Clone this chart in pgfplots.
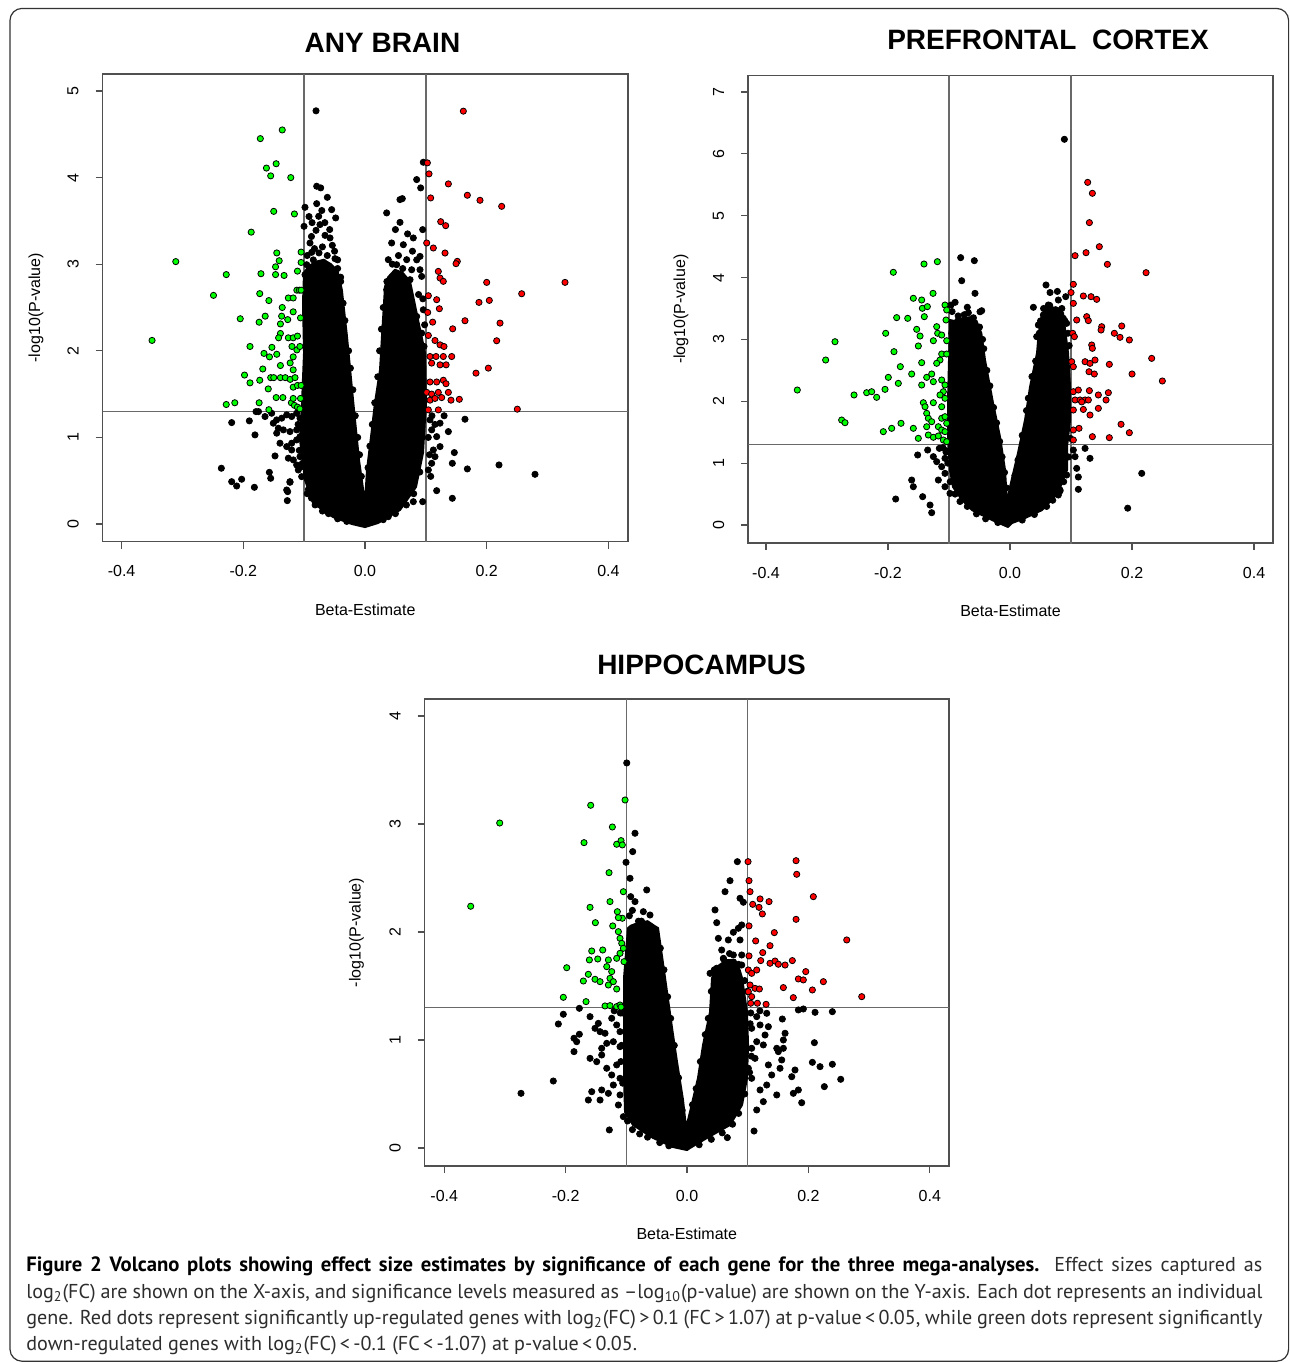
\documentclass[border=0pt]{standalone}
\usepackage{fontspec}
\setmainfont{Liberation Sans}
\newfontfamily\capfont{PT Sans}
\usepackage{pgfplots}
\pgfplotsset{compat=1.18}
\definecolor{rgreen}{RGB}{0,255,0}
\definecolor{rred}{RGB}{255,0,0}
\definecolor{boxc}{RGB}{80,80,80}
\definecolor{refc}{RGB}{105,105,105}
\definecolor{captxt}{RGB}{45,45,45}
\pgfplotsset{
 volcano/.style={
  scale only axis,
  axis line style={boxc,line width=0.75pt},
  tick align=outside,
  major tick length=3.5pt,
  tick style={boxc,line width=0.6pt},
  xtick pos=bottom, ytick pos=left,
  xtick={-0.4,-0.2,0,0.2,0.4},
  xticklabels={-0.4,-0.2,0.0,0.2,0.4},
  tick label style={font=\fontsize{8}{9.6}\selectfont},
  xticklabel style={anchor=center,yshift=-11.25pt},
  yticklabel style={xshift=-11.25pt,rotate=90,anchor=center},
  xlabel={Beta-Estimate},
  ylabel={-log10(P-value)},
  every axis x label/.style={anchor=center,font=\fontsize{8}{9.6}\selectfont},
  every axis y label/.style={anchor=center,rotate=90,font=\fontsize{8}{9.6}\selectfont},
  clip=true,
 },
 blk/.style={only marks,mark=*,mark size=1.55pt,mark options={fill=black,draw=none}},
 grn/.style={only marks,mark=*,mark size=1.55pt,mark options={fill=rgreen,draw=none}},
 rd/.style={only marks,mark=*,mark size=1.55pt,mark options={fill=rred,draw=none}},
 mass/.style={fill=black,draw=black,line width=1pt,line join=round},
 refl/.style={refc,line width=0.7pt},
}
\begin{document}
\begin{tikzpicture}
\useasboundingbox (0,0) rectangle (645pt,-681pt);
\fill[white] (0,0) rectangle (645pt,-681pt);
\draw[black!80,line width=0.6pt,rounded corners=6pt] (5pt,-4.2pt) rectangle (644.3pt,-680.6pt);

% ---------------- ANY BRAIN ----------------
\begin{axis}[volcano, at={(51.25pt,-270.75pt)}, anchor=south west,
  width=262.75pt, height=233.75pt,
  xmin=-0.4314, xmax=0.4322, ymin=-0.202, ymax=5.196,
  ytick={0,1,2,3,4,5}, yticklabels={0,1,2,3,4,5},
  xlabel style={at={(axis description cs:0.5,-0.1465)}},
  ylabel style={at={(axis description cs:-0.1266,0.5)}}]
\addplot[refl] coordinates {(-0.1,-1) (-0.1,10)};
\addplot[refl] coordinates {(0.1,-1) (0.1,10)};
\addplot[refl] coordinates {(-1,1.301) (1,1.301)};
\addplot[mass] coordinates {(-0.1002,2.902) (-0.1019,2.555) (-0.1002,1.977) (-0.1035,1.399) (-0.1068,0.971) (-0.0986,0.509) (-0.0855,0.243) (-0.0526,0.081) (-0.0214,0) (0,-0.035) (0.0214,0.012) (0.0575,0.162) (0.0838,0.428) (0.0953,0.821) (0.1002,1.399) (0.0986,1.977) (0.0871,2.358) (0.0800,2.60) (0.0740,2.800) (0.062,2.90) (0.0493,2.936) (0.038,2.85) (0.0329,2.740) (0.0279,2.162) (0.0247,1.780) (0.0164,1.399) (0.0099,1.006) (0.0033,0.624) (0,0.243) (-0.0099,0.740) (-0.0197,1.434) (-0.0296,2.162) (-0.0380,2.70) (-0.0450,2.92) (-0.0560,3.00) (-0.0680,3.05) (-0.0800,3.03) (-0.0920,2.98)} -- cycle;
\addplot[blk] coordinates {(-0.0805,4.771) (-0.0794,3.900) (-0.0728,3.881) (-0.0619,3.772) (-0.0794,3.699) (-0.0548,3.630) (-0.0482,3.534) (-0.0986,3.657) (-0.0761,3.553) (-0.0740,3.457) (-0.1002,3.437) (-0.0805,3.391) (-0.0657,3.333) (-0.0575,3.303) (-0.0537,3.218) (-0.0904,3.245) (-0.0876,3.137) (-0.0756,3.130) (-0.0493,3.064) (-0.0958,2.994) (-0.0986,2.879) (-0.0700,3.20) (-0.0620,3.10) (-0.0850,3.05) (-0.0450,2.95) (-0.0400,2.80)
(-0.095,3.10) (-0.088,3.32) (-0.068,3.02) (-0.060,2.98) (-0.083,3.18) (-0.050,3.15) (-0.045,3.05) (-0.058,3.40) (-0.092,3.55) (-0.071,3.62) (-0.066,3.48) (-0.087,3.48)
(-0.040,2.85) (-0.036,2.55) (-0.033,2.35) (-0.027,2.00) (-0.024,1.80) (-0.020,1.55) (-0.016,1.25) (-0.012,1.00) (-0.009,0.80) (-0.006,0.55)
(-0.095,0.35) (-0.082,0.22) (-0.070,0.15) (-0.060,0.12) (-0.045,0.06) (-0.030,0.03) (-0.1030,0.70) (-0.1080,0.85) (-0.1100,1.15)
(-0.2191,1.171) (-0.1901,1.191) (-0.1808,1.029) (-0.1791,1.298) (-0.1643,1.241) (-0.1507,1.164) (-0.1451,1.049) (-0.1397,0.933) (-0.1479,0.786) (-0.1260,0.760) (-0.1205,0.855) (-0.1123,0.682) (-0.2361,0.644) (-0.2191,0.489) (-0.2109,0.439) (-0.2027,0.517) (-0.1818,0.424) (-0.1572,0.597) (-0.1550,0.528) (-0.1271,0.374) (-0.1277,0.270) (-0.1233,0.482) (-0.1041,0.547) (-0.1534,1.279) (-0.1452,1.202) (-0.1369,1.222) (-0.1287,1.260) (-0.1205,1.241) (-0.1123,1.279) (-0.1068,1.222) (-0.1041,1.125) (-0.1123,1.087) (-0.1233,1.067) (-0.1342,1.087) (-0.1424,1.106) (-0.1123,0.971) (-0.1205,0.933) (-0.1287,0.894) (-0.1068,1.009) (-0.1068,0.778) (-0.1178,0.740) (-0.1096,0.624) (-0.1041,0.663) (-0.1287,0.393) (-0.1233,0.489) (-0.0674,0.170) (-0.1750,1.298) (-0.0930,0.400) (-0.0880,0.300)
(0.0958,4.177) (0.0849,3.977) (0.0915,3.881) (0.0613,3.757) (0.0575,3.746) (0.0356,3.592) (0.0575,3.483) (0.0948,3.399) (0.0794,3.303) (0.0630,3.225) (0.0438,3.245) (0.0904,3.090) (0.0904,2.936) (0.0383,3.052) (0.0520,2.994) (0.0685,3.052) (0.0767,2.936) (0.0931,2.859) (0.0740,2.821) (0.0438,2.840) (0.0356,2.705) (0.0740,2.512) (0.0849,2.397) (0.0958,2.474) (0.0931,2.204) (0.0876,1.934) (0.0931,1.858)
(0.045,3.00) (0.055,3.10) (0.062,2.95) (0.078,3.15) (0.085,3.05) (0.070,3.35) (0.050,3.40) (0.088,2.65) (0.095,2.60) (0.098,2.30) (0.097,2.05)
(0.036,2.80) (0.030,2.50) (0.027,2.25) (0.024,2.00) (0.021,1.70) (0.016,1.40) (0.012,1.15) (0.008,0.90) (0.005,0.65)
(0.090,0.60) (0.080,0.35) (0.068,0.22) (0.050,0.12) (0.030,0.05) (0.104,1.00) (0.106,0.80) (0.108,0.55)
(0.1643,1.210) (0.1370,1.067) (0.1233,1.164) (0.1178,1.009) (0.1123,0.855) (0.1233,0.894) (0.1068,1.202) (0.1096,1.087) (0.1150,0.778) (0.1041,0.624) (0.1096,0.701) (0.1468,0.825) (0.1435,0.701) (0.1682,0.636) (0.2202,0.682) (0.2794,0.574) (0.1178,0.385) (0.1435,0.297) (0.0948,0.258) (0.0794,0.258) (0.0383,0.085) (0.1100,1.25) (0.1300,1.25) (0.1150,1.15)};
\addplot[grn] coordinates {(-0.350,2.12) (-0.311,3.03) (-0.249,2.64) (-0.228,2.88) (-0.205,2.37) (-0.228,1.38) (-0.214,1.40) (-0.198,1.72) (-0.189,1.63) (-0.189,2.05) (-0.187,3.37) (-0.172,4.45) (-0.136,4.55) (-0.162,4.11) (-0.155,4.02) (-0.146,4.16) (-0.122,4.00) (-0.150,3.61) (-0.116,3.58) (-0.145,3.13) (-0.141,3.04) (-0.147,2.97) (-0.147,2.88) (-0.133,2.87) (-0.171,2.89) (-0.173,2.66) (-0.158,2.58) (-0.111,2.92) (-0.105,3.14) (-0.105,3.02) (-0.112,2.70) (-0.108,2.70) (-0.105,2.70) (-0.126,2.61) (-0.118,2.61) (-0.136,2.50) (-0.118,2.45) (-0.164,2.40) (-0.174,2.33) (-0.137,2.40) (-0.127,2.36) (-0.106,2.38) (-0.139,2.31) (-0.139,2.20) (-0.142,2.15) (-0.126,2.15) (-0.118,2.15) (-0.111,2.17) (-0.153,2.04) (-0.145,1.96) (-0.157,1.93) (-0.166,1.97) (-0.120,2.05) (-0.112,2.01) (-0.107,2.05) (-0.118,1.93) (-0.123,1.86) (-0.118,1.78) (-0.139,1.83) (-0.168,1.79) (-0.173,1.66) (-0.155,1.69) (-0.150,1.69) (-0.139,1.69) (-0.131,1.69) (-0.123,1.67) (-0.115,1.69) (-0.159,1.56) (-0.135,1.46) (-0.146,1.46) (-0.174,1.40) (-0.158,1.32) (-0.118,1.58) (-0.111,1.60) (-0.105,1.60) (-0.121,1.40) (-0.116,1.37) (-0.111,1.35) (-0.107,1.33) (-0.118,1.45) (-0.106,1.45)};
\addplot[rd] coordinates {(0.1616,4.767) (0.1025,4.170) (0.1052,4.043) (0.1370,3.927) (0.1079,3.765) (0.1682,3.796) (0.1890,3.738) (0.2246,3.668) (0.1244,3.491) (0.1326,3.445) (0.1014,3.245) (0.1123,3.187) (0.1315,3.129) (0.1517,3.033) (0.1496,3.006) (0.1205,2.917) (0.1233,2.840) (0.1287,2.802) (0.2000,2.790) (0.3287,2.790) (0.2575,2.659) (0.1873,2.559) (0.2043,2.582) (0.1041,2.636) (0.1178,2.590) (0.1222,2.486) (0.1030,2.443) (0.1112,2.331) (0.1441,2.254) (0.1643,2.347) (0.2219,2.320) (0.2164,2.116) (0.1041,2.177) (0.1150,2.119) (0.1233,2.069) (0.1298,2.050) (0.1068,1.934) (0.1167,1.934) (0.1287,1.934) (0.1425,1.934) (0.1095,1.858) (0.1233,1.838) (0.1333,1.838) (0.1824,1.742) (0.2027,1.800) (0.1068,1.64) (0.1178,1.64) (0.1287,1.66) (0.1331,1.62) (0.1014,1.52) (0.1095,1.50) (0.1205,1.52) (0.1370,1.52) (0.1068,1.43) (0.1150,1.45) (0.1260,1.46) (0.1550,1.44) (0.1413,1.43) (0.1041,1.318) (0.1205,1.318) (0.2503,1.326)};
\end{axis}

% ---------------- PREFRONTAL CORTEX ----------------
\begin{axis}[volcano, at={(374pt,-271.5pt)}, anchor=south west,
  width=262.5pt, height=233.75pt,
  xmin=-0.4295, xmax=0.4311, ymin=-0.291, ymax=7.266,
  ytick={0,1,2,3,4,5,6,7}, yticklabels={0,1,2,3,4,5,6,7},
  xlabel style={at={(axis description cs:0.5,-0.1453)}},
  ylabel style={at={(axis description cs:-0.1276,0.5)}}]
\addplot[refl] coordinates {(-0.1,-1) (-0.1,10)};
\addplot[refl] coordinates {(0.1,-1) (0.1,10)};
\addplot[refl] coordinates {(-1,1.301) (1,1.301)};
\addplot[mass] coordinates {(-0.0984,3.314) (-0.1000,2.667) (-0.1016,2.021) (-0.1016,1.374) (-0.0984,0.889) (-0.0934,0.614) (-0.0787,0.404) (-0.0623,0.242) (-0.0295,0.081) (-0.0033,-0.032) (0.0033,0.032) (0.0246,0.113) (0.0525,0.242) (0.0787,0.517) (0.0934,0.889) (0.0934,1.261) (0.0984,1.697) (0.0984,2.231) (0.0951,2.780) (0.0869,3.427) (0.0800,3.50) (0.0680,3.52) (0.0580,3.48) (0.0525,3.40) (0.0470,3.10) (0.0443,2.780) (0.0328,2.231) (0.0246,1.697) (0.0131,1.164) (0,0.614) (-0.0049,0.356) (-0.0082,0.889) (-0.0164,1.423) (-0.0279,1.972) (-0.0410,2.667) (-0.0470,3.10) (-0.0550,3.30) (-0.0650,3.36) (-0.0800,3.34) (-0.0920,3.30)} -- cycle;
\addplot[blk] coordinates {(-0.0809,4.322) (-0.0585,4.273) (-0.0792,3.949) (-0.0574,3.745) (-0.0967,3.556) (-0.0683,3.431) (-0.0492,3.447) (-0.0464,3.464) (-0.0847,3.314) (-0.0738,3.260) (-0.0574,3.206) (-0.0792,3.152) (-0.0656,3.099) (-0.0519,2.991) (-0.0956,3.099) (-0.0902,2.937) (-0.0710,2.882) (-0.0519,2.774) (-0.0956,2.720) (-0.0519,2.533) (-0.0410,2.397)
(-0.095,3.45) (-0.085,3.38) (-0.075,3.40) (-0.060,3.35) (-0.050,3.20) (-0.045,3.00) (-0.043,2.85) (-0.090,3.60) (-0.070,3.52)
(-0.038,2.50) (-0.033,2.25) (-0.027,1.90) (-0.022,1.65) (-0.017,1.35) (-0.013,1.10) (-0.009,0.85) (-0.006,0.60)
(-0.098,0.70) (-0.090,0.50) (-0.082,0.38) (-0.070,0.30) (-0.055,0.18) (-0.040,0.10) (-0.020,0.04) (-0.102,1.00) (-0.104,1.20)
(-0.1350,1.212) (-0.1159,1.239) (-0.1514,1.132) (-0.1257,1.105) (-0.1202,1.024) (-0.1066,1.078) (-0.1120,0.943) (-0.1066,0.835) (-0.1175,0.727) (-0.1066,0.619) (-0.0984,0.511) (-0.1612,0.727) (-0.1585,0.619) (-0.1432,0.458) (-0.1874,0.420) (-0.1311,0.323) (-0.1284,0.199) (-0.1100,1.25) (-0.1050,1.18)
(0.0891,6.235) (0.0590,3.880) (0.0656,3.758) (0.0776,3.776) (0.0913,3.691) (0.0383,3.519) (0.0792,3.637) (0.0628,3.556) (0.0546,3.395) (0.0738,3.395) (0.0874,3.341) (0.0929,3.260) (0.0464,3.233) (0.0437,3.045) (0.0574,3.099) (0.0929,2.882)
(0.055,3.50) (0.065,3.55) (0.075,3.48) (0.085,3.50) (0.090,3.30) (0.095,3.10) (0.050,3.30) (0.048,3.10) (0.097,2.90)
(0.042,2.65) (0.036,2.40) (0.030,2.05) (0.027,1.85) (0.020,1.45) (0.013,1.05) (0.008,0.80) (0.004,0.50)
(0.088,0.70) (0.082,0.55) (0.070,0.40) (0.060,0.30) (0.040,0.17) (0.020,0.08) (0.099,1.40) (0.096,1.10)
(0.1230,1.239) (0.1311,1.078) (0.1066,1.105) (0.1093,0.916) (0.1120,0.776) (0.1038,1.212) (0.1120,0.577) (0.2159,0.835) (0.1929,0.272) (0.0929,0.808) (0.0820,0.566) (0.0792,0.485) (0.0530,0.323)};
\addplot[grn] coordinates {(-0.3487,2.182) (-0.3022,2.667) (-0.2869,2.963) (-0.2760,1.697) (-0.2705,1.654) (-0.2557,2.102) (-0.2350,2.139) (-0.2268,2.155) (-0.2186,2.064) (-0.2049,2.193) (-0.2077,1.509) (-0.1940,1.563) (-0.1787,1.644) (-0.1913,4.085) (-0.1410,4.219) (-0.1191,4.257) (-0.1262,3.745) (-0.1585,3.665) (-0.1448,3.637) (-0.1437,3.503) (-0.1355,3.530) (-0.1066,3.556) (-0.1038,3.476) (-0.1049,3.314) (-0.1858,3.352) (-0.1677,3.341) (-0.1405,3.368) (-0.2038,3.099) (-0.1530,3.163) (-0.1475,3.055) (-0.1202,3.206) (-0.1186,3.099) (-0.1120,3.071) (-0.1257,2.979) (-0.1038,2.979) (-0.1503,2.894) (-0.1902,2.802) (-0.1120,2.764) (-0.1038,2.764) (-0.1148,2.667) (-0.1202,2.614) (-0.1448,2.624) (-0.1798,2.560) (-0.1612,2.441) (-0.1366,2.387) (-0.1284,2.441) (-0.1995,2.387) (-0.1831,2.290) (-0.1448,2.263) (-0.1257,2.317) (-0.1120,2.344) (-0.1066,2.263) (-0.1093,2.155) (-0.1148,2.102) (-0.1066,2.048) (-0.1421,1.977) (-0.1257,1.977) (-0.1393,1.912) (-0.1120,1.912) (-0.1366,1.805) (-0.1339,1.725) (-0.1284,1.670) (-0.1120,1.725) (-0.1066,1.751) (-0.1038,1.644) (-0.1585,1.563) (-0.1366,1.589) (-0.1175,1.589) (-0.1120,1.536) (-0.1066,1.509) (-0.1503,1.401) (-0.1339,1.455) (-0.1257,1.418) (-0.1175,1.439) (-0.1093,1.374) (-0.1038,1.347)};
\addplot[rd] coordinates {(0.1273,5.539) (0.1350,5.362) (0.1301,4.888) (0.1464,4.499) (0.1066,4.354) (0.1246,4.402) (0.1596,4.214) (0.2230,4.079) (0.1038,3.891) (0.1000,3.758) (0.1038,3.583) (0.1202,3.702) (0.1328,3.691) (0.1421,3.648) (0.1093,3.314) (0.1257,3.368) (0.1284,3.304) (0.1503,3.206) (0.1492,3.152) (0.1831,3.217) (0.1710,3.099) (0.1803,3.034) (0.1956,2.991) (0.1027,3.099) (0.1055,3.045) (0.1339,2.910) (0.1350,2.856) (0.2322,2.694) (0.1011,2.640) (0.1038,2.559) (0.1230,2.640) (0.1311,2.613) (0.1393,2.667) (0.1628,2.597) (0.1295,2.478) (0.1382,2.441) (0.2000,2.441) (0.2497,2.328) (0.1038,2.155) (0.1120,2.182) (0.1301,2.172) (0.1448,2.102) (0.1612,2.139) (0.1066,2.021) (0.1148,2.021) (0.1230,2.021) (0.1284,2.021) (0.1175,1.990) (0.1574,2.021) (0.1038,1.859) (0.1202,1.868) (0.1311,1.778) (0.1448,1.886) (0.1820,1.628) (0.1956,1.492) (0.1038,1.536) (0.1131,1.563) (0.1350,1.428) (0.1628,1.412) (0.1038,1.374)};
\end{axis}

% ---------------- HIPPOCAMPUS ----------------
\begin{axis}[volcano, at={(212.25pt,-583pt)}, anchor=south west,
  width=262.25pt, height=233.5pt,
  xmin=-0.4325, xmax=0.4316, ymin=-0.167, ymax=4.157,
  ytick={0,1,2,3,4}, yticklabels={0,1,2,3,4},
  xlabel style={at={(axis description cs:0.5,-0.1456)}},
  ylabel style={at={(axis description cs:-0.1296,0.5)}}]
\addplot[refl] coordinates {(-0.1,-1) (-0.1,10)};
\addplot[refl] coordinates {(0.1,-1) (0.1,10)};
\addplot[refl] coordinates {(-1,1.301) (1,1.301)};
\addplot[mass] coordinates {(-0.0972,2.037) (-0.1038,1.574) (-0.1038,1.111) (-0.1038,0.648) (-0.1021,0.333) (-0.0890,0.213) (-0.0560,0.093) (-0.0231,0.009) (0,-0.019) (0.0049,0) (0.0329,0.093) (0.0708,0.213) (0.0906,0.398) (0.0988,0.648) (0.1005,0.954) (0.0988,1.259) (0.0906,1.574) (0.0850,1.68) (0.0791,1.741) (0.0650,1.74) (0.0500,1.68) (0.0412,1.574) (0.0379,1.259) (0.0264,0.954) (0.0181,0.648) (0.0049,0.333) (-0.0016,0.185) (-0.0066,0.444) (-0.0165,0.796) (-0.0247,1.111) (-0.0362,1.574) (-0.0478,2.037) (-0.0520,2.05) (-0.0650,2.10) (-0.0800,2.08) (-0.0920,2.06)} -- cycle;
\addplot[blk] coordinates {(-0.0993,3.565) (-0.0857,2.914) (-0.0895,2.744) (-0.1005,2.645) (-0.0939,2.497) (-0.0928,2.327) (-0.0664,2.389) (-0.0610,2.157) (-0.0555,2.003) (-0.0720,2.188) (-0.0857,2.281) (-0.0800,2.10)
(-0.095,2.15) (-0.085,2.05) (-0.075,2.10) (-0.065,2.05) (-0.058,1.95) (-0.050,1.90) (-0.090,2.20)
(-0.044,1.85) (-0.038,1.65) (-0.032,1.40) (-0.027,1.20) (-0.021,0.95) (-0.014,0.65) (-0.008,0.35)
(-0.098,0.25) (-0.090,0.17) (-0.078,0.13) (-0.065,0.10) (-0.045,0.05) (-0.030,0.02) (-0.106,0.60) (-0.108,0.95) (-0.107,1.25) (-0.109,0.80)
(-0.1774,1.293) (-0.2038,1.238) (-0.2120,1.148) (-0.1862,1.016) (-0.1774,1.053) (-0.1818,0.984) (-0.1862,0.892) (-0.1598,1.216) (-0.1461,1.154) (-0.1433,1.077) (-0.1351,1.062) (-0.1516,1.108) (-0.1241,1.201) (-0.1159,1.139) (-0.1104,1.077) (-0.1323,0.969) (-0.1406,0.923) (-0.1214,0.984) (-0.1104,0.938) (-0.1598,0.830) (-0.1488,0.799) (-0.1406,0.861) (-0.1323,0.738) (-0.1241,0.676) (-0.1159,0.769) (-0.1104,0.645) (-0.1214,0.583) (-0.1296,0.506) (-0.1104,0.491) (-0.1131,0.398) (-0.1049,0.290) (-0.1280,0.167) (-0.1570,0.521) (-0.1626,0.444) (-0.1433,0.444) (-0.1406,0.537) (-0.2203,0.620) (-0.2735,0.506) (-0.1100,1.25) (-0.1200,1.27)
(0.0829,2.651) (0.0708,2.475) (0.0626,2.373) (0.0873,2.312) (0.0928,2.275) (0.0461,2.204) (0.0489,2.086) (0.0901,2.065) (0.0845,2.034) (0.0763,1.997) (0.0516,1.941) (0.0680,1.926) (0.0873,1.926) (0.0571,1.833) (0.0599,1.756) (0.0763,1.787) (0.0901,1.787) (0.0489,1.664) (0.0379,1.617) (0.0708,1.679) (0.0901,1.694)
(0.060,1.75) (0.070,1.80) (0.085,1.70) (0.045,1.65) (0.095,1.55) (0.099,1.45)
(0.040,1.45) (0.035,1.20) (0.030,1.05) (0.022,0.80) (0.015,0.55) (0.009,0.40)
(0.095,0.50) (0.085,0.32) (0.075,0.22) (0.058,0.14) (0.040,0.08) (0.020,0.03) (0.104,1.15) (0.106,0.85) (0.103,0.70)
(0.1834,1.278) (0.1916,1.287) (0.2109,1.256) (0.2394,1.262) (0.1570,1.194) (0.1313,1.247) (0.1340,1.123) (0.1285,1.046) (0.1203,1.139) (0.1148,1.216) (0.1615,1.062) (0.1587,1.000) (0.1478,0.923) (0.1504,0.892) (0.1587,0.923) (0.2098,0.975) (0.2065,0.793) (0.2191,0.753) (0.2394,0.775) (0.2532,0.636) (0.2262,0.568) (0.1779,0.722) (0.1725,0.660) (0.1834,0.537) (0.1751,0.506) (0.1889,0.419) (0.1478,0.491) (0.1340,0.769) (0.1395,0.676) (0.1313,0.583) (0.1203,0.537) (0.1257,0.429) (0.1148,0.352) (0.1104,0.157) (0.1065,0.923) (0.1120,0.830) (0.1065,0.645) (0.1010,0.738) (0.1065,1.108) (0.1148,0.984) (0.1257,0.954) (0.0664,0.096) (0.1560,0.815) (0.1532,0.738) (0.1050,1.25) (0.1200,1.27)};
\addplot[grn] coordinates {(-0.3564,2.238) (-0.3086,3.009) (-0.1587,3.173) (-0.1021,3.222) (-0.1697,2.827) (-0.1230,2.972) (-0.1159,2.812) (-0.1087,2.846) (-0.1066,2.806) (-0.1285,2.549) (-0.1049,2.373) (-0.1598,2.228) (-0.1269,2.281) (-0.1510,2.086) (-0.1148,2.188) (-0.1066,2.127) (-0.1131,2.133) (-0.1224,2.056) (-0.1131,2.003) (-0.1104,1.941) (-0.1076,1.895) (-0.1049,1.849) (-0.1104,1.802) (-0.1159,1.756) (-0.1038,1.725) (-0.1570,1.824) (-0.1389,1.833) (-0.1609,1.741) (-0.1471,1.750) (-0.1296,1.741) (-0.1323,1.679) (-0.1241,1.633) (-0.1269,1.571) (-0.1214,1.540) (-0.1626,1.608) (-0.1516,1.562) (-0.1433,1.540) (-0.1708,1.546) (-0.1982,1.669) (-0.1296,1.509) (-0.1159,1.472) (-0.2038,1.395) (-0.1664,1.355) (-0.1351,1.315) (-0.1269,1.318) (-0.1159,1.309) (-0.1104,1.324) (-0.1087,1.305)};
\addplot[rd] coordinates {(0.1005,2.651) (0.1796,2.660) (0.1807,2.534) (0.1021,2.475) (0.1038,2.373) (0.2081,2.327) (0.1082,2.256) (0.1203,2.306) (0.1186,2.228) (0.1241,2.167) (0.1351,2.281) (0.1796,2.117) (0.1021,2.056) (0.1438,1.994) (0.2631,1.926) (0.1131,1.917) (0.1367,1.873) (0.1247,1.809) (0.1214,1.735) (0.1367,1.710) (0.1450,1.731) (0.1504,1.701) (0.1615,1.694) (0.1735,1.735) (0.1021,1.778) (0.1956,1.633) (0.1834,1.565) (0.1916,1.556) (0.2246,1.540) (0.2065,1.463) (0.1587,1.485) (0.1751,1.392) (0.2878,1.401) (0.1010,1.648) (0.1065,1.617) (0.1148,1.648) (0.1038,1.509) (0.1120,1.478) (0.1192,1.472) (0.1010,1.447) (0.1065,1.401) (0.1049,1.340) (0.1159,1.340) (0.1302,1.330)};
\end{axis}

% titles
\node[anchor=base,font=\fontsize{14}{16}\selectfont\bfseries] at (191.25pt,-26.25pt) {ANY BRAIN};
\node[anchor=base,font=\fontsize{14}{16}\selectfont\bfseries] at (524pt,-24.75pt) {PREFRONTAL\ \ CORTEX};
\node[anchor=base,font=\fontsize{14}{16}\selectfont\bfseries] at (350.75pt,-337.25pt) {HIPPOCAMPUS};

% caption
\begin{scope}[every node/.style={anchor=base west,inner sep=0pt,text=captxt,font=\capfont\fontsize{10.05}{12}\selectfont}]
\node at (13pt,-635.85pt) {\makebox[618pt][s]{\textcolor{black}{\fontsize{10.35}{12}\selectfont\bfseries Figure 2 Volcano plots showing effect size estimates by significance of each gene for the three mega-analyses.} Effect sizes captured as}};
\node at (13pt,-649.15pt) {\makebox[618pt][s]{log\textsubscript{2}(FC) are shown on the X-axis, and significance levels measured as –log\textsubscript{10}(p-value) are shown on the Y-axis. Each dot represents an individual}};
\node at (13pt,-662.15pt) {\makebox[618pt][s]{gene. Red dots represent significantly up-regulated genes with log\textsubscript{2}(FC)\,>\,0.1 (FC\,>\,1.07) at p-value\,<\,0.05, while green dots represent significantly}};
\node at (13pt,-675.15pt) {down-regulated genes with log\textsubscript{2}(FC)\,<\,-0.1 (FC\,<\,-1.07) at p-value\,<\,0.05.};
\end{scope}
\end{tikzpicture}
\end{document}
